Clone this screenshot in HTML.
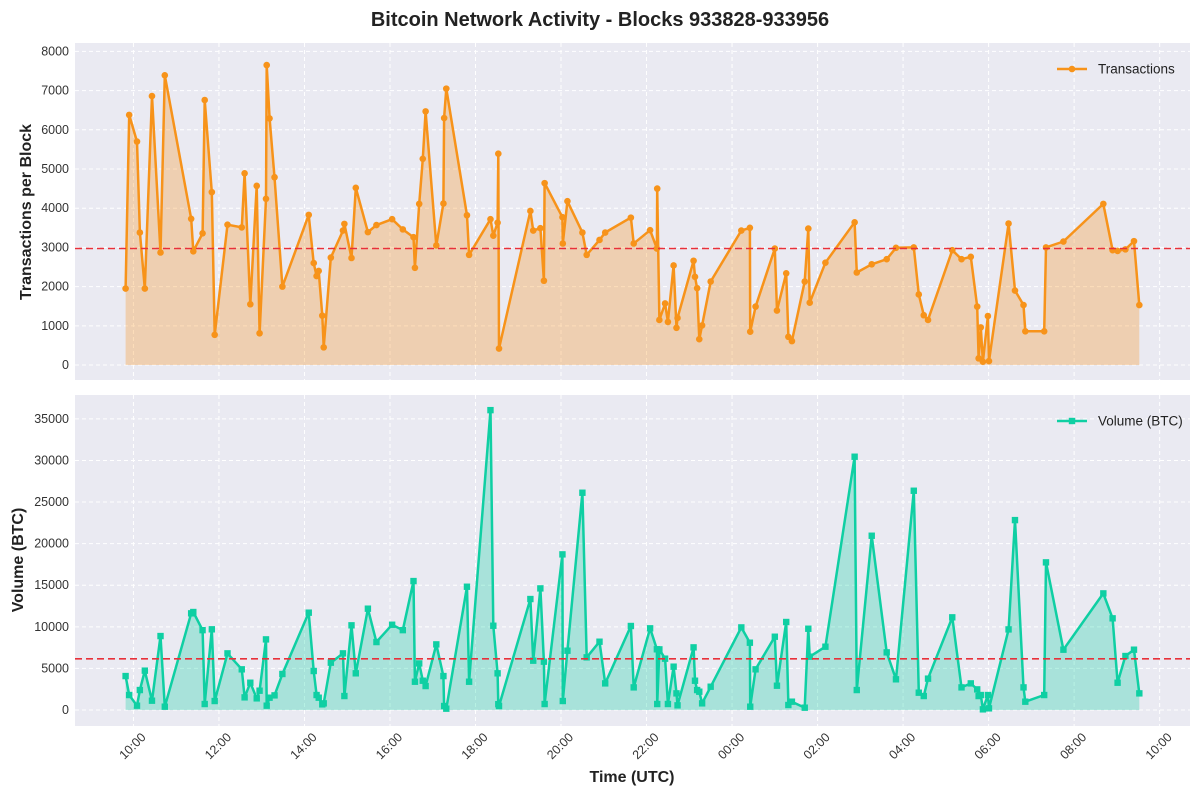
<!DOCTYPE html>
<html><head><meta charset="utf-8">
<style>
html,body{margin:0;padding:0;background:#fff;}
svg{display:block;font-family:"Liberation Sans",sans-serif;}
</style></head>
<body>
<svg id="chart" width="1200" height="795" viewBox="0 0 1200 795" xmlns="http://www.w3.org/2000/svg">
<text x="600" y="26" text-anchor="middle" font-size="20" font-weight="bold" fill="#222">Bitcoin Network Activity - Blocks 933828-933956</text>
<g id="top"></g>
<g id="bot"></g>
<text transform="translate(31,212) rotate(-90)" text-anchor="middle" font-size="16" font-weight="bold" fill="#222">Transactions per Block</text>
<text transform="translate(23,560) rotate(-90)" text-anchor="middle" font-size="16" font-weight="bold" fill="#222">Volume (BTC)</text>
<text x="632" y="782" text-anchor="middle" font-size="16" font-weight="bold" fill="#222">Time (UTC)</text>
</svg>
<script>
// minutes since 10:00 UTC
const minutes=[-11,-6,5,9,16,26,38,44,81,84,97,100,110,114,132,152,156,164,173,177,186,187,191,198,209,246,253,257,260,265,267,277,294,296,306,312,329,341,363,378,393,395,401,406,410,425,435,436,439,468,471,501,505,511,512,513,557,561,571,576,577,602,602.5,609,630,636,654,662,698,702,725,734.5,735,738,746,750,758,762,763.5,786,788,791,794,798,810,853,865,865.5,873,900,903,916,919,924,942,947,949,971,1012,1015,1036,1057,1070,1095,1102,1109,1115,1149,1162,1175,1184,1186,1189,1192,1199,1200.5,1228,1237,1249,1251.5,1278,1280.5,1305,1361,1374,1381,1392,1404,1411.5];
const transactions=[1950,6380,5700,3380,1950,6860,2870,7390,3730,2900,3360,6760,4410,770,3580,3510,4890,1550,4570,810,4240,7650,6290,4790,2000,3830,2600,2270,2400,1260,450,2740,3430,3600,2730,4520,3390,3570,3720,3460,3260,2480,4110,5260,6470,3050,4120,6300,7050,3820,2810,3720,3300,3630,5390,420,3930,3430,3490,2150,4640,3770,3100,4180,3380,2810,3190,3380,3760,3100,3440,2970,4500,1150,1570,1100,2540,950,1200,2660,2250,1960,660,1010,2130,3430,3500,850,1490,2970,1390,2340,720,610,2130,3480,1590,2610,3640,2360,2570,2700,2990,3000,1800,1270,1150,2930,2700,2760,1490,170,960,85,1250,100,3610,1900,1530,860,860,3000,3150,4110,2930,2910,2950,3160,1530];
const volumes=[4080,1800,520,2400,4730,1120,8890,400,11620,11780,9600,720,9700,1080,6810,4890,1520,3280,1400,2320,8490,520,1480,1760,4330,11700,4690,1800,1480,680,800,5690,6810,1680,10180,4410,12180,8170,10250,9600,15500,3400,5600,3520,2880,7890,4080,480,160,14820,3400,36050,10130,4410,700,480,13340,5930,14620,5810,720,18710,1080,7130,26120,6330,8210,3200,10100,2720,9820,7300,720,7290,6170,720,5210,2000,560,7530,3520,2400,2200,800,2800,9930,8090,400,4890,8810,2920,10580,600,1000,280,9770,6410,7610,30450,2400,20950,6930,3690,26360,2080,1680,3770,11140,2720,3200,2480,1680,1800,80,1800,200,9690,22830,2720,1000,1800,17750,7250,14020,11020,3280,6490,7250,2000];
const xTickLabels=["10:00","12:00","14:00","16:00","18:00","20:00","22:00","00:00","02:00","04:00","06:00","08:00","10:00"];
const txTicks=[0,1000,2000,3000,4000,5000,6000,7000,8000];
const volTicks=[0,5000,10000,15000,20000,25000,30000,35000];

const NS="http://www.w3.org/2000/svg";
function mk(parent,tag,attrs){const e=document.createElementNS(NS,tag);for(const k in attrs)e.setAttribute(k,attrs[k]);parent.appendChild(e);return e;}
const L=75,R=1190;
const xMin=-82,xMax=1482.6;
const xs=m=>L+(m-xMin)/(xMax-xMin)*(R-L);

function panel(g,top,bottom,yMin,yMax,ticks,vals,color,fill,marker,legend,key){
  const ys=v=>bottom-(v-yMin)/(yMax-yMin)*(bottom-top);
  const bg=mk(g,'rect',{x:L,y:top,width:R-L,height:bottom-top,fill:'#eaeaf2'});
  
  
  ticks.forEach(t=>{
    const y=ys(t);
    const gl=mk(g,'line',{x1:L,x2:R,y1:y,y2:y,stroke:'#fff','stroke-dasharray':'4,3','stroke-width':1});
    
    
    const tl=mk(g,'text',{x:L-6,y:y+4,'text-anchor':'end','font-size':12.5,fill:'#333'});
    tl.textContent=String(t);
    
    
  });
  xTickLabels.forEach((lab,i)=>{
    const x=xs(i*120);
    const gl=mk(g,'line',{x1:x,x2:x,y1:top,y2:bottom,stroke:'#fff','stroke-dasharray':'4,3','stroke-width':1});
    
    
  });
  const y0=ys(0);
  let d='M'+xs(minutes[0])+','+y0;
  minutes.forEach((m,i)=>{d+=' L'+xs(m).toFixed(1)+','+ys(vals[i]).toFixed(1);});
  d+=' L'+xs(minutes[minutes.length-1])+','+y0+' Z';
  const area=mk(g,'path',{d:d,fill:fill,'fill-opacity':0.3,stroke:'none'});
  
  
  const pts=minutes.map((m,i)=>xs(m).toFixed(1)+','+ys(vals[i]).toFixed(1)).join(' ');
  const line=mk(g,'polyline',{points:pts,fill:'none',stroke:color,'stroke-width':2.5,'stroke-linejoin':'round'});
  
  
  minutes.forEach((m,i)=>{
    let p;
    if(marker==='circle') p=mk(g,'circle',{cx:xs(m),cy:ys(vals[i]),r:3.3,fill:color});
    else p=mk(g,'rect',{x:xs(m)-3.2,y:ys(vals[i])-3.2,width:6.4,height:6.4,fill:color});
    
    
  });
  const mean=vals.reduce((a,b)=>a+b,0)/vals.length;
  const ml=mk(g,'line',{x1:L,x2:R,y1:ys(mean),y2:ys(mean),stroke:'#e8303a','stroke-width':1.6,'stroke-dasharray':'7,4'});
  
  
  const lg=mk(g,'g',{});
  
  
  const ly=top+26;
  mk(lg,'line',{x1:1057,x2:1087,y1:ly,y2:ly,stroke:color,'stroke-width':2.5});
  if(marker==='circle') mk(lg,'circle',{cx:1072,cy:ly,r:3.3,fill:color});
  else mk(lg,'rect',{x:1068.8,y:ly-3.2,width:6.4,height:6.4,fill:color});
  const lt=mk(lg,'text',{x:1098,y:ly+4.5,'font-size':13.5,fill:'#222'});
  lt.textContent=legend;
  
  
}
panel(document.getElementById('top'),43,380,-382,8214,txTicks,transactions,'#f7931a','#f7931a','circle','Transactions','transactions');
panel(document.getElementById('bot'),395,726,-1923,37870,volTicks,volumes,'#0fcfa3','#0fcfa3','square','Volume (BTC)','volume');
const svg=document.getElementById('chart');
xTickLabels.forEach((lab,i)=>{
  const x=xs(i*120);
  const t=mk(svg,'text',{transform:'translate('+(x+2)+',749) rotate(-45)','text-anchor':'middle','font-size':12.5,fill:'#333'});
  t.textContent=lab;
  
  
});
</script>
</body></html>
